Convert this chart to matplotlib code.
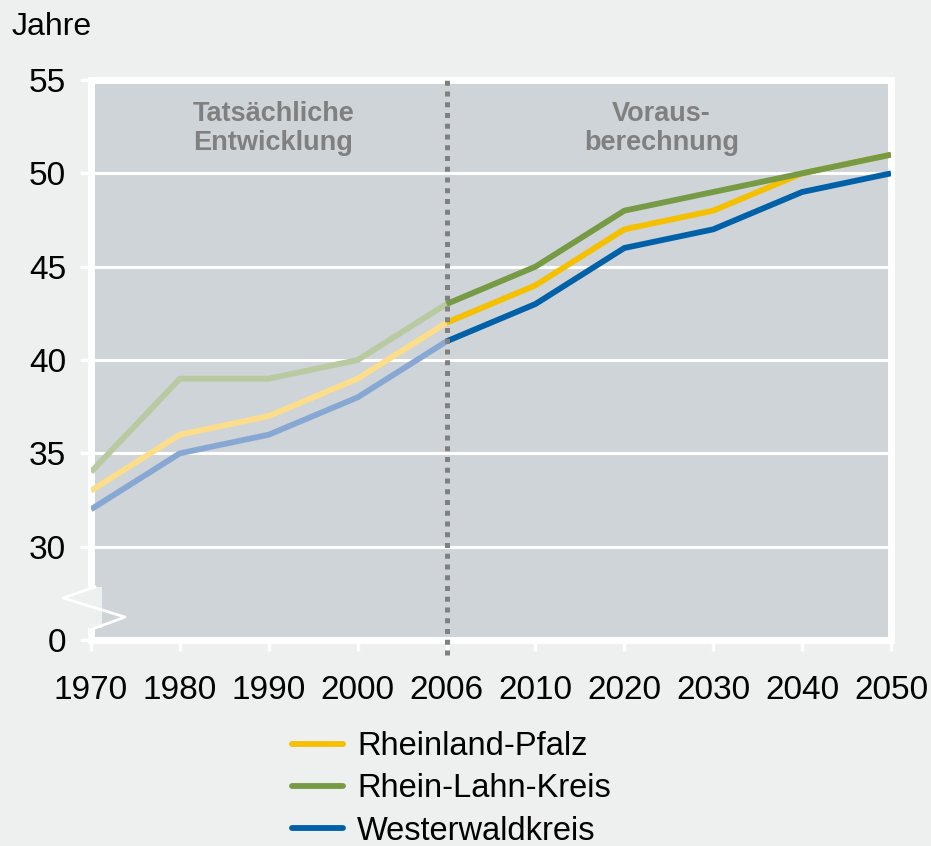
import matplotlib.pyplot as plt
from matplotlib.patches import Rectangle

plt.rcParams['font.family'] = ['Liberation Sans', 'DejaVu Sans']

# Daten (Durchschnittsalter in Jahren)
jahre = ["1970", "1980", "1990", "2000", "2006", "2010", "2020", "2030", "2040", "2050"]
rheinland_pfalz = [33, 36, 37, 39, 42, 44, 47, 48, 50, 51]
rhein_lahn = [34, 39, 39, 40, 43, 45, 48, 49, 50, 51]
westerwald = [32, 35, 36, 38, 41, 43, 46, 47, 49, 50]
y_ticks = [0, 30, 35, 40, 45, 50, 55]

bg = '#eef0ef'
plotbg = '#cfd4d8'

serien = [
    ("Rheinland-Pfalz", rheinland_pfalz, '#f5c000', '#fcde8a'),
    ("Rhein-Lahn-Kreis", rhein_lahn, '#779a45', '#b9c9a0'),
    ("Westerwaldkreis", westerwald, '#0061a8', '#88a8d4'),
]

split = jahre.index("2006")
x = list(range(len(jahre)))

fig = plt.figure(figsize=(9.31, 8.46), dpi=100, facecolor=bg)
ax = fig.add_axes([91/931, 1-640/846, 800/931, 560/846])
ax.set_facecolor(plotbg)

# 0 wird auf 25 gelegt (Achsenbruch)
def ypos(v):
    return 25 if v == 0 else v

for y in y_ticks[1:-1]:
    ax.axhline(ypos(y), color='white', lw=2.2, zorder=1)

handles = []
for name, werte, farbe, hell in serien:
    ax.plot(x[:split+1], werte[:split+1], color=hell, lw=4.2, zorder=3,
            solid_capstyle='butt')
    h, = ax.plot(x[split:], werte[split:], color=farbe, lw=4.2, zorder=4,
                 solid_capstyle='butt', label=name)
    handles.append(h)

ax.plot([split, split], [24.2, 55], color='#808080', lw=3.6,
        linestyle=(0, (1, 1.15)), zorder=5, clip_on=False)

ax.set_xlim(0, len(jahre)-1)
ax.set_ylim(25, 55)
ax.set_xticks(x)
ax.set_xticklabels(jahre)
ax.set_yticks([ypos(v) for v in y_ticks])
ax.set_yticklabels([str(v) for v in y_ticks])
ax.tick_params(axis='both', colors='white', width=2.5, length=8, labelcolor='black',
               labelsize=24)
ax.tick_params(axis='x', pad=17)
ax.tick_params(axis='y', pad=10)
for s in ax.spines.values():
    s.set_color('white')
    s.set_linewidth(5)

# Achsenbruch
ax.add_patch(Rectangle((-0.045, 25.64), 0.17, 2.2, facecolor=bg, edgecolor='none',
                       zorder=6, clip_on=False))
ax.plot([0.045, -0.315, 0.383, 0.045], [27.84, 27.25, 26.23, 25.64], color='white',
        lw=2, zorder=7, clip_on=False)

ax.text(2.05, 52.42, "Tatsächliche\nEntwicklung", ha='center', va='center',
        fontsize=19.5, fontweight='bold', color='#808080', linespacing=1.15)
ax.text(6.42, 52.42, "Voraus-\nberechnung", ha='center', va='center',
        fontsize=19.5, fontweight='bold', color='#808080', linespacing=1.15)

fig.text(12/931, 1-27/846, "Jahre", fontsize=23, va='center', ha='left')

fig.legend(handles=handles, loc='upper left', bbox_to_anchor=(292/931, 1-731/846),
           frameon=False, fontsize=23.5, handlelength=1.55, handletextpad=0.45,
           labelspacing=0.35, borderpad=0, borderaxespad=0)
for lh in fig.legends[0].get_lines():
    lh.set_solid_capstyle('round')

fig.savefig('out.png', dpi=100, facecolor=bg)
